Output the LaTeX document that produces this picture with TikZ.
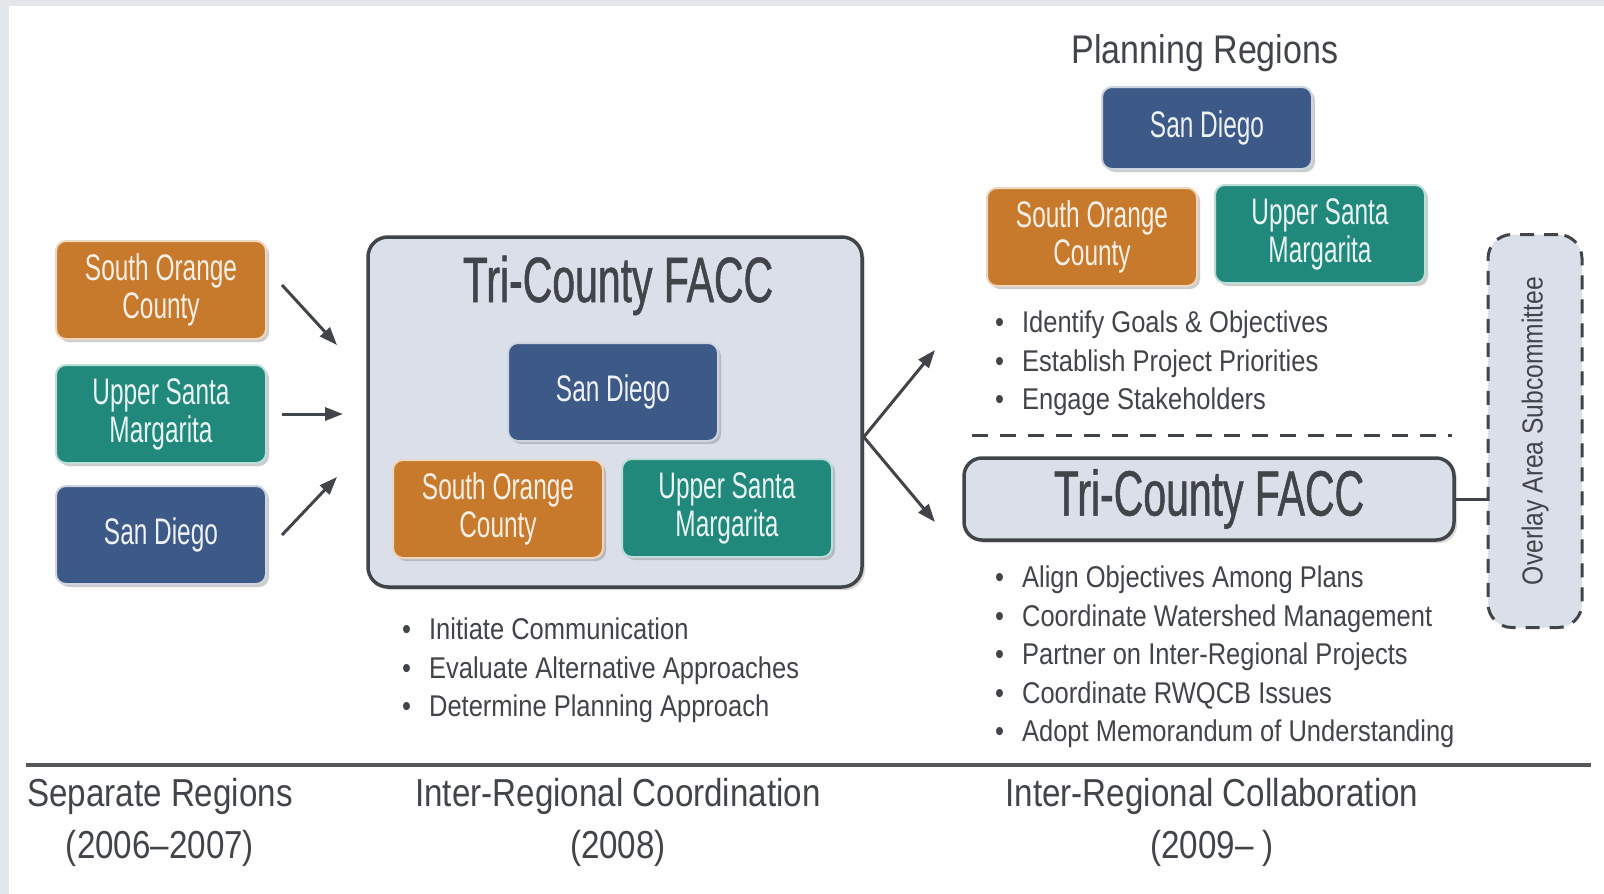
\documentclass[tikz,border=0pt]{standalone}
\usepackage{fontspec}
\setmainfont{Liberation Sans}
\newfontfamily\headfont[FakeStretch=0.66,Ligatures=TeX]{Liberation Sans}
\newfontfamily\titlefont[FakeStretch=0.64,FakeBold=0.8,Ligatures=TeX]{Liberation Sans}
\newfontfamily\bodyfont[FakeStretch=0.85,Ligatures=TeX]{Liberation Sans}
\usetikzlibrary{arrows.meta,shadows}
\definecolor{orangebox}{HTML}{C77A2C}
\definecolor{tealbox}{HTML}{21897B}
\definecolor{navybox}{HTML}{3D5987}
\definecolor{faccfill}{HTML}{DBDFE9}
\definecolor{inkgray}{HTML}{414449}
\definecolor{framegray}{HTML}{E3E7EA}
\tikzset{
  region/.style={rounded corners=10pt,minimum width=210pt,minimum height=98pt,line width=2pt,
    align=center,inner sep=0pt,font=\headfont\fontsize{37}{38}\selectfont,
    drop shadow={shadow xshift=3pt,shadow yshift=-3pt,opacity=.4}},
  socbox/.style={region,fill=orangebox,draw=orangebox!30!white,text=orangebox!12!white},
  usmbox/.style={region,fill=tealbox,draw=tealbox!30!white,text=tealbox!10!white},
  sdbox/.style={region,fill=navybox,draw=navybox!25!white,text=navybox!8!white},
  flow/.style={line width=3pt,inkgray,-{Triangle[length=18pt,width=13pt]}},
  bullets/.style={anchor=north west,inner sep=0pt,align=left,text=inkgray,
    font=\bodyfont\fontsize{30}{38.5}\selectfont},
  stage/.style={anchor=base,inner sep=0pt,text=inkgray,font=\bodyfont\fontsize{39}{39}\selectfont}
}
\begin{document}
\begin{tikzpicture}[x=1pt,y=-1pt]
\useasboundingbox (0,0) rectangle (1604,894);
\fill[framegray] (0,0) rectangle (1604,894);
\fill[white] (9,6) rectangle (1604,894);

\node[socbox] (lsoc) at (161,290) {South Orange\\County};
\node[usmbox] (lusm) at (161,414) {Upper Santa\\Margarita};
\node[sdbox] (lsd) at (161,535) {San Diego};

\node[rounded corners=20pt,minimum width=494pt,minimum height=350pt,fill=faccfill,draw=inkgray,
  line width=3.5pt,drop shadow={shadow xshift=3pt,shadow yshift=-3pt,opacity=.3}] (facc) at (615,412) {};
\node[anchor=base,text=inkgray,font=\titlefont\fontsize{64}{64}\selectfont] (facctitle) at (618,302) {Tri-County FACC};
\node[sdbox] (isd) at (613,392) {San Diego};
\node[socbox] (isoc) at (498,509) {South Orange\\County};
\node[usmbox] (iusm) at (727,508) {Upper Santa\\Margarita};

\coordinate (in1) at (337,345);
\coordinate (in2) at (343,414);
\coordinate (in3) at (337,477);
\draw[flow] ([shift={(15,-5)}]lsoc.east) -- (in1);
\draw[flow] ([xshift=15pt]lusm.east) -- (in2);
\draw[flow] ([xshift=15pt]lsd.east) -- (in3);

\node[bullets] (coordsteps) at (402,618) {•\hspace{18pt}Initiate Communication\\
  •\hspace{18pt}Evaluate Alternative Approaches\\
  •\hspace{18pt}Determine Planning Approach};

\coordinate (out1) at (935,350);
\coordinate (out2) at (935,522);
\draw[flow] ([yshift=-25pt]facc.east) -- (out1);
\draw[flow] ([yshift=-25pt]facc.east) -- (out2);

\node[anchor=base,text=inkgray,font=\bodyfont\fontsize{40}{40}\selectfont] (plantitle) at (1205,63) {Planning Regions};
\node[sdbox,minimum height=82pt] (rsd) at (1207,128) {San Diego};
\node[socbox] (rsoc) at (1092,237) {South Orange\\County};
\node[usmbox] (rusm) at (1320,234) {Upper Santa\\Margarita};

\node[bullets] (plansteps) at (995,311) {•\hspace{18pt}Identify Goals \& Objectives\\
  •\hspace{18pt}Establish Project Priorities\\
  •\hspace{18pt}Engage Stakeholders};

\draw[inkgray,line width=3pt,dash pattern=on 16pt off 12pt] (972,435) -- (1452,435);

\node[rounded corners=18pt,minimum width=490pt,minimum height=82pt,fill=faccfill,draw=inkgray,
  line width=3.5pt,text=inkgray,font=\titlefont\fontsize{64}{64}\selectfont,
  drop shadow={shadow xshift=3pt,shadow yshift=-3pt,opacity=.3}] (rfacc) at (1209,499) {Tri-County FACC};

\node[rounded corners=24pt,minimum width=94pt,minimum height=393pt,fill=faccfill,draw=inkgray,
  line width=3pt,dash pattern=on 14pt off 10pt,text=inkgray,font=\bodyfont\fontsize{29}{29}\selectfont]
  (ovl) at (1535,431) {\rotatebox{90}{Overlay Area Subcommittee}};
\draw[inkgray,line width=3pt] (rfacc.east) -- (rfacc.east -| ovl.west);

\node[bullets] (collabsteps) at (995,566) {•\hspace{18pt}Align Objectives Among Plans\\
  •\hspace{18pt}Coordinate Watershed Management\\
  •\hspace{18pt}Partner on Inter-Regional Projects\\
  •\hspace{18pt}Coordinate RWQCB Issues\\
  •\hspace{18pt}Adopt Memorandum of Understanding};

\draw[inkgray!90,line width=4pt] (26,765) -- (1591,765);

\node[stage] (sepname) at (160,806) {Separate Regions};
\node[stage] (sepyears) at (160,858) {(2006–2007)};
\node[stage] (coordname) at (618,806) {Inter-Regional Coordination};
\node[stage] (coordyears) at (618,858) {(2008)};
\node[stage] (collabname) at (1212,806) {Inter-Regional Collaboration};
\node[stage] (collabyears) at (1212,858) {(2009– )};
\end{tikzpicture}
\end{document}
